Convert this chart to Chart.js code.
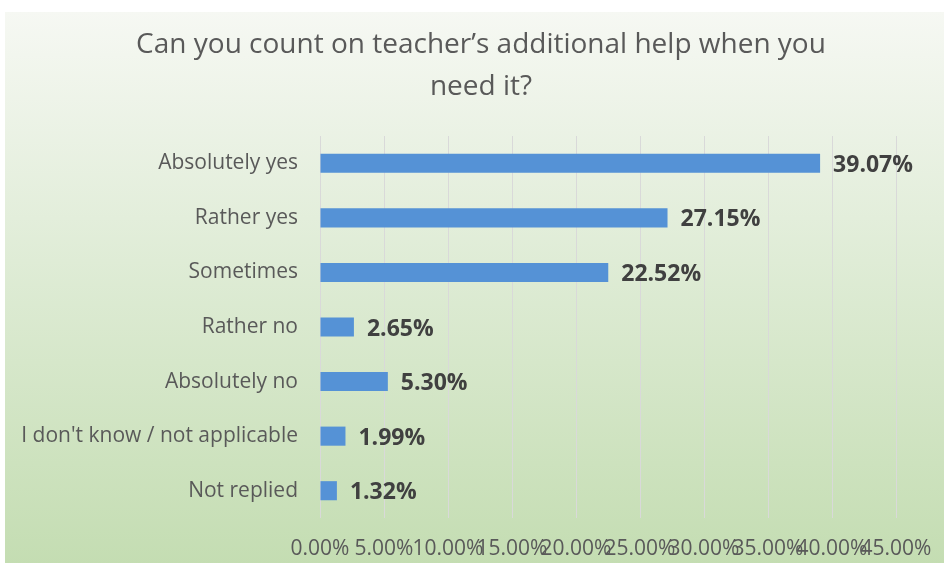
<!DOCTYPE html>
<html>
<head>
<meta charset="utf-8">
<script src="https://cdn.jsdelivr.net/npm/chart.js@4.4.1/dist/chart.umd.min.js"></script>
<style>
  html, body { margin: 0; padding: 0; background: #ffffff; }
  #wrap { width: 944px; height: 565px; position: relative; }
</style>
</head>
<body>
<div id="wrap"><canvas id="c" width="944" height="565"></canvas></div>
<script>
const titleLines = ["Can you count on teacher\u2019s additional help when you", "need it?"];
const categories = ["Absolutely yes", "Rather yes", "Sometimes", "Rather no", "Absolutely no", "I don't know / not applicable", "Not replied"];
const shares = [39.07, 27.15, 22.52, 2.65, 5.30, 1.99, 1.32];
const xTickLabels = ["0.00%", "5.00%", "10.00%", "15.00%", "20.00%", "25.00%", "30.00%", "35.00%", "40.00%", "45.00%"];

const FONT = "'Open Sans', 'DejaVu Sans', sans-serif";

const bgPlugin = {
  id: 'bg',
  beforeDraw(chart) {
    const ctx = chart.ctx;
    ctx.save();
    ctx.fillStyle = '#ffffff';
    ctx.fillRect(0, 0, chart.width, chart.height);
    const g = ctx.createLinearGradient(0, 12, 0, chart.height);
    g.addColorStop(0, '#f6f8f3');
    g.addColorStop(0.45, '#dfecd6');
    g.addColorStop(1, '#c4ddb2');
    ctx.fillStyle = g;
    ctx.fillRect(5, 12, chart.width - 5, chart.height - 14);
    ctx.restore();
  }
};

const titlePlugin = {
  id: 'titleLines',
  afterDraw(chart) {
    const ctx = chart.ctx;
    ctx.save();
    ctx.fillStyle = '#595959';
    ctx.font = "28px " + FONT;
    ctx.textAlign = 'center';
    ctx.textBaseline = 'middle';
    ctx.fillText(titleLines[0], 481, 45);
    ctx.fillText(titleLines[1], 481, 87);
    ctx.restore();
  }
};

const valueLabels = {
  id: 'valueLabels',
  afterDatasetsDraw(chart) {
    const ctx = chart.ctx;
    const meta = chart.getDatasetMeta(0);
    ctx.save();
    ctx.fillStyle = '#404040';
    ctx.font = "bold 23px " + FONT;
    ctx.textAlign = 'left';
    ctx.textBaseline = 'middle';
    meta.data.forEach((el, i) => {
      ctx.fillText(shares[i].toFixed(2) + '%', el.x + 13, el.y + 2);
    });
    ctx.restore();
  }
};

new Chart(document.getElementById('c'), {
  type: 'bar',
  data: {
    labels: categories,
    datasets: [{
      data: shares,
      backgroundColor: '#5592d6',
      borderWidth: 0,
      barPercentage: 0.35,
      categoryPercentage: 1.0
    }]
  },
  options: {
    indexAxis: 'y',
    responsive: false,
    animation: false,
    devicePixelRatio: 1,
    layout: { padding: { top: 136, right: 48, bottom: 0, left: 0 } },
    plugins: {
      legend: { display: false },
      title: { display: false },
      tooltip: { enabled: false }
    },
    scales: {
      x: {
        min: 0,
        max: 45,
        ticks: {
          stepSize: 5,
          autoSkip: false,
          maxRotation: 0,
          minRotation: 0,
          padding: 18,
          color: '#595959',
          font: { family: FONT, size: 21 },
          callback: (v, i) => xTickLabels[i]
        },
        grid: { color: '#d9d9d9', lineWidth: 1, drawTicks: false },
        border: { display: false },
        afterFit(scale) { scale.height = 47; scale.paddingRight = 0; scale.paddingLeft = 0; }
      },
      y: {
        ticks: {
          padding: 22,
          color: '#595959',
          font: { family: FONT, size: 21 }
        },
        grid: { display: false, drawTicks: false },
        border: { display: false },
        afterFit(scale) { scale.width = 320; }
      }
    }
  },
  plugins: [bgPlugin, titlePlugin, valueLabels]
});
</script>
</body>
</html>
